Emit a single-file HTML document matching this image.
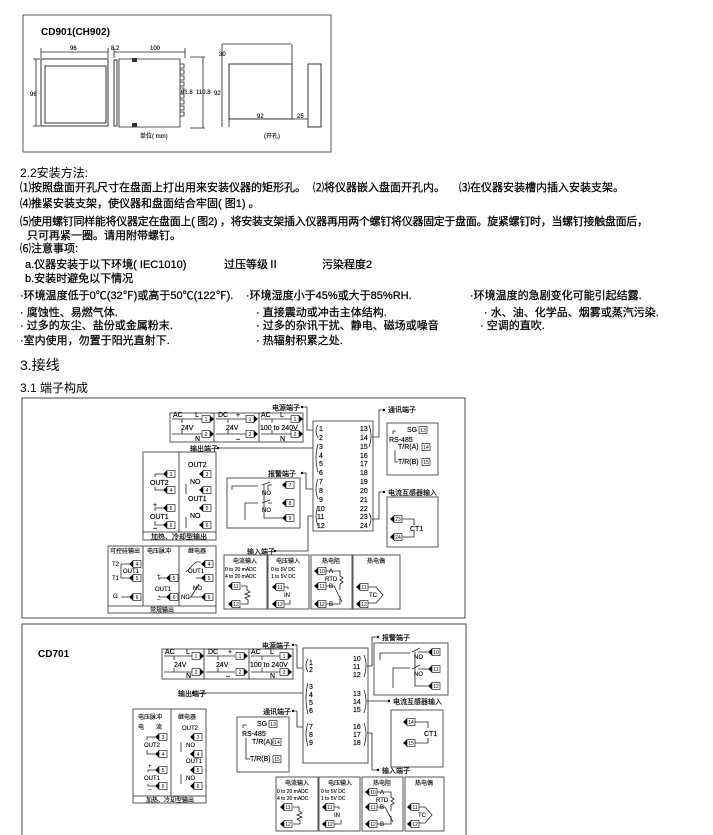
<!DOCTYPE html>
<html><head><meta charset="utf-8"><style>
html,body{margin:0;padding:0;background:#fff;}
svg{display:block}
text{font-family:"Liberation Sans","Noto Sans CJK SC",sans-serif;fill:#000}
.b{font-size:11px;stroke:#000;stroke-width:.25}
.s{font-size:7px;stroke:#000;stroke-width:.15}
.t{font-size:6px;stroke:#000;stroke-width:.12}
.n{font-size:5px;text-anchor:middle}
.c{text-anchor:middle}
.ln{fill:none;stroke:#222;stroke-width:.8}
.bx{fill:#fff;stroke:#555;stroke-width:1}
</style></head><body>
<svg width="713" height="835" viewBox="0 0 713 835" xmlns="http://www.w3.org/2000/svg">
<defs>
<g id="L"><polygon points="0,0 4,-3.5 4,3.5" fill="#000"/><rect x="4" y="-3.5" width="8" height="7" fill="#fff" stroke="#000" stroke-width=".6"/></g>
<g id="R"><rect x="0" y="-3.5" width="8" height="7" fill="#fff" stroke="#000" stroke-width=".6"/><polygon points="8,-3.5 12,0 8,3.5" fill="#000"/></g>
<g id="B"><rect x="0" y="-3.5" width="8" height="7" fill="#fff" stroke="#000" stroke-width=".6"/></g>
</defs>

<!-- top drawing -->
<rect x="23" y="15" width="308" height="137" fill="none" stroke="#555" stroke-width="1"/>
<text x="41" y="35" style="font-size:10px;font-weight:bold">CD901(CH902)</text>
<rect x="41" y="59" width="67" height="67" fill="none" stroke="#333"/>
<rect x="45" y="66" width="61" height="57" fill="none" stroke="#333"/>
<path class="ln" d="M41 52H108M41 48V58M108 48V58M36 59V126M33 59H40M33 126H40"/>
<text x="70" y="50" class="t">96</text><text x="30" y="96" class="t">96</text>
<rect x="114" y="60" width="3" height="66" fill="none" stroke="#333"/>
<path class="ln" d="M119 59H180V127H119ZM114 52H185M114 48V58M185 48V58M190 57H205M190 128H205M203 57V128"/>
<path class="ln" d="M180 64h4v4h-4M180 70h4v4h-4M180 76h4v4h-4M180 82h4v4h-4M180 88h4v4h-4M180 94h4v4h-4M180 100h4v4h-4M180 106h4v4h-4M180 112h4v4h-4"/>
<rect x="132" y="58" width="5" height="4" fill="#333"/><rect x="132" y="123" width="5" height="4" fill="#333"/>
<text x="111" y="50" class="t">8.2</text><text x="150" y="50" class="t">100</text>
<text x="181" y="94" class="t">91.8</text><text x="196" y="94" class="t">110.8</text><text x="214" y="95" class="t">92</text>
<text x="140" y="138" class="t">单位( mm)</text>
<rect x="229" y="64" width="63" height="55" fill="none" stroke="#333"/>
<path class="ln" d="M222 44H291M222 44V127M229 119V127M292 44V64M292 119H308"/>
<rect x="308" y="64" width="13" height="63" fill="none" stroke="#333"/>
<text x="219" y="56" class="t">30</text><text x="257" y="118" class="t">92</text><text x="297" y="118" class="t">25</text>
<text x="264" y="138" class="t">(开孔)</text>

<!-- text -->
<text x="20" y="177" style="font-size:12px">2.2安装方法:</text>
<text x="20" y="191" class="b">⑴按照盘面开孔尺寸在盘面上打出用来安装仪器的矩形孔。</text>
<text x="313" y="191" class="b">⑵将仪器嵌入盘面开孔内。</text>
<text x="459" y="191" class="b">⑶在仪器安装槽内插入安装支架。</text>
<text x="20" y="207" class="b">⑷推紧安装支架，使仪器和盘面结合牢固( 图1) 。</text>
<text x="20" y="225" class="b" textLength="628">⑸使用螺钉同样能将仪器定在盘面上( 图2) ，将安装支架插入仪器再用两个螺钉将仪器固定于盘面。旋紧螺钉时，当螺钉接触盘面后，</text>
<text x="27" y="239" class="b">只可再紧一圈。请用附带螺钉。</text>
<text x="20" y="252" class="b">⑹注意事项:</text>
<text x="25" y="268" class="b">a.仪器安装于以下环境( IEC1010)</text>
<text x="224" y="268" class="b">过压等级Ⅱ</text>
<text x="322" y="268" class="b">污染程度2</text>
<text x="25" y="282" class="b">b.安装时避免以下情况</text>
<text x="20" y="299" class="b">·环境温度低于0℃(32℉)或高于50℃(122℉).</text>
<text x="246" y="299" class="b">·环境湿度小于45%或大于85%RH.</text>
<text x="470" y="299" class="b">·环境温度的急剧变化可能引起结露.</text>
<text x="20" y="316" class="b">· 腐蚀性、易燃气体.</text>
<text x="256" y="316" class="b">· 直接震动或冲击主体结构.</text>
<text x="484" y="316" class="b">· 水、油、化学品、烟雾或蒸汽污染.</text>
<text x="20" y="329" class="b">·  过多的灰尘、盐份或金属粉末.</text>
<text x="256" y="329" class="b">· 过多的杂讯干扰、静电、磁场或噪音</text>
<text x="480" y="329" class="b">· 空调的直吹.</text>
<text x="20" y="344" class="b">·室内使用，勿置于阳光直射下.</text>
<text x="256" y="344" class="b">· 热辐射积累之处.</text>
<text x="20" y="370" style="font-size:14px">3.接线</text>
<text x="20" y="392" style="font-size:12px">3.1 端子构成</text>

<!-- diagram 1 -->
<rect x="22" y="398" width="443" height="220" fill="none" stroke="#666" stroke-width="1.2"/>
<rect x="22" y="624" width="444" height="220" fill="none" stroke="#666" stroke-width="1.2"/>

<rect class="bx" x="170" y="413" width="133" height="29"/>
<path class="ln" d="M214 413V442M259 413V442"/>
<text x="173" y="417" class="s">AC</text><text x="195" y="417" class="s">L</text><text x="181" y="430" class="s">24V</text><text x="195" y="441" class="s">N</text>
<path class="ln" d="M172 419H202M172 434H202M182 419V423M182 430V434"/>
<text x="218" y="417" class="s">DC</text><text x="236" y="417" class="s">+</text><text x="226" y="430" class="s">24V</text><text x="236" y="441" class="s">–</text>
<path class="ln" d="M216 419H246M216 434H246M228 419V423M228 430V434"/>
<text x="261" y="417" class="s">AC</text><text x="280" y="417" class="s">L</text><text x="260" y="430" class="s">100 to 240V</text><text x="280" y="441" class="s">N</text>
<path class="ln" d="M261 419H291M261 434H291M272 419V423M272 430V434"/>
<use href="#R" x="202" y="419"/><use href="#R" x="202" y="434"/><use href="#R" x="246" y="419"/><use href="#R" x="246" y="434"/><use href="#R" x="291" y="419"/><use href="#R" x="291" y="434"/>
<text x="206" y="421" class="n">1</text><text x="206" y="436" class="n">2</text><text x="250" y="421" class="n">1</text><text x="250" y="436" class="n">2</text><text x="295" y="421" class="n">1</text><text x="295" y="436" class="n">2</text>

<text x="272" y="410" class="s">电源端子</text><circle cx="302" cy="407" r="1.2"/>
<path class="ln" d="M302 407H307V430H314"/>
<text x="190" y="451" class="s">输出端子</text><circle cx="218" cy="448" r="1.2"/>
<path class="ln" d="M218 448H314"/>
<text x="268" y="476" class="s">报警端子</text><circle cx="302" cy="473" r="1.2"/>
<path class="ln" d="M302 473H306V489H314"/>
<text x="247" y="554" class="s">输入端子</text><circle cx="275" cy="551" r="1.2"/>
<path class="ln" d="M275 551H308V516H314"/>

<rect class="bx" x="313" y="421" width="60" height="110"/>
<g class="s">
<text x="319" y="431">1</text><text x="319" y="440">2</text><text x="319" y="449">3</text><text x="319" y="458">4</text><text x="319" y="466">5</text><text x="319" y="475">6</text><text x="319" y="484">7</text><text x="319" y="493">8</text><text x="319" y="502">9</text><text x="317" y="511">10</text><text x="317" y="519">11</text><text x="317" y="528">12</text>
<text x="360" y="431">13</text><text x="360" y="440">14</text><text x="360" y="449">15</text><text x="360" y="458">16</text><text x="360" y="466">17</text><text x="360" y="475">18</text><text x="360" y="484">19</text><text x="360" y="493">20</text><text x="360" y="502">21</text><text x="360" y="511">22</text><text x="360" y="519">23</text><text x="360" y="528">24</text>
</g>
<path class="ln" d="M318 425Q314 430 318 438M318 444Q314 458 318 472M318 479Q314 489 318 499M318 506Q314 516 318 526M369 425Q373 436 369 447M369 513Q373 519 369 526"/>
<path class="ln" d="M372 437H379V410H383M372 519H379V492H383"/>
<circle cx="384" cy="410" r="1.2"/><text x="388" y="412" class="s">通讯端子</text>
<circle cx="384" cy="492" r="1.2"/><text x="388" y="495" class="s">电流互感器输入</text>

<rect class="bx" x="387" y="423" width="51" height="52"/>
<text x="407" y="432" class="s">SG</text><text x="389" y="442" class="s">RS-485</text><text x="398" y="449" class="s">T/R(A)</text><text x="398" y="464" class="s">T/R(B)</text>
<path class="ln" d="M393 434V431H396M395 450V462H398"/>
<use href="#B" x="419" y="430"/><use href="#B" x="422" y="447"/><use href="#B" x="422" y="462"/>
<text x="423" y="432" class="n">13</text><text x="426" y="449" class="n">14</text><text x="426" y="464" class="n">15</text>

<rect class="bx" x="387" y="497" width="51" height="50"/>
<use href="#L" x="390" y="519"/><use href="#L" x="390" y="537"/>
<text x="398" y="521" class="n">23</text><text x="398" y="539" class="n">24</text>
<path class="ln" d="M402 519H414V525M402 537H414V531"/><text x="410" y="531" class="s">CT1</text>

<rect class="bx" x="227" y="478" width="73" height="50"/>
<path class="ln" d="M232 490V486H258M245 520V503H258M268 490V485H272M262 485L270 482M268 503H272M262 503L270 500M264 485V518H282M264 503V503"/>
<text x="262" y="495" class="t">NO</text><text x="262" y="512" class="t">NO</text>
<use href="#L" x="282" y="485"/><use href="#L" x="282" y="503"/><use href="#L" x="282" y="518"/>
<text x="290" y="487" class="n">7</text><text x="290" y="505" class="n">8</text><text x="290" y="520" class="n">9</text>

<rect class="bx" x="143" y="452" width="73" height="88"/>
<path class="ln" d="M179 452V532M143 532H216"/>
<g class="s"><text x="150" y="485">OUT2</text><text x="150" y="519">OUT1</text><text x="188" y="467">OUT2</text><text x="188" y="501">OUT1</text><text x="190" y="484">NO</text><text x="190" y="518">NO</text><text x="153" y="507">+</text><text x="153" y="530">–</text></g>
<path class="ln" d="M155 477V474H163M155 487V490H163M155 511V508H163M155 521V525H163M186 484V494M186 517V528"/>
<use href="#L" x="163" y="474"/><use href="#L" x="163" y="490"/><use href="#L" x="163" y="508"/><use href="#L" x="163" y="525"/>
<use href="#L" x="199" y="474"/><use href="#L" x="199" y="490"/><use href="#L" x="199" y="508"/><use href="#L" x="199" y="525"/>
<g class="n"><text x="171" y="476">3</text><text x="171" y="492">4</text><text x="171" y="510">5</text><text x="171" y="527">6</text><text x="207" y="476">3</text><text x="207" y="492">4</text><text x="207" y="510">5</text><text x="207" y="527">6</text></g>
<text x="179" y="539" class="s c">加热、冷却型输出</text>

<rect class="bx" x="108" y="546" width="108" height="67"/>
<path class="ln" d="M143 546V606M179 546V606M108 606H216"/>
<g class="t"><text x="110" y="553">可控硅输出</text><text x="147" y="553">电压脉冲</text><text x="188" y="553">继电器</text>
<text x="112" y="566">T2</text><text x="112" y="580">T1</text><text x="113" y="598">G</text><text x="123" y="573">OUT1</text>
<text x="155" y="591">OUT1</text><text x="157" y="578">+</text><text x="157" y="601">–</text>
<text x="188" y="573">OUT1</text><text x="193" y="590">NO</text><text x="181" y="599">NC</text></g>
<text x="162" y="612" class="t c">常规输出</text>
<path class="ln" d="M121 564H129M121 564V578H129M121 597H129M159 580V578H166M159 595V597H166M186 572L196 562H201M188 597H201M191 597L199 584M196 578H201"/>
<use href="#L" x="129" y="564"/><use href="#L" x="129" y="578"/><use href="#L" x="129" y="597"/>
<use href="#L" x="166" y="578"/><use href="#L" x="166" y="597"/>
<use href="#L" x="201" y="564"/><use href="#L" x="201" y="578"/><use href="#L" x="201" y="597"/>
<g class="n"><text x="137" y="566">4</text><text x="137" y="580">5</text><text x="137" y="599">6</text><text x="174" y="580">5</text><text x="174" y="599">6</text><text x="209" y="566">4</text><text x="209" y="580">5</text><text x="209" y="599">6</text></g>

<!-- input boxes 1 -->
<rect class="bx" x="224" y="555" width="43" height="54"/><rect class="bx" x="268" y="555" width="41" height="54"/><rect class="bx" x="311" y="555" width="41" height="54"/><rect class="bx" x="353" y="555" width="47" height="54"/>
<g class="t"><text x="245" y="563" class="c">电流输入</text><text x="225" y="571" style="font-size:5px">0 to 20 mADC</text><text x="225" y="578" style="font-size:5px">4 to 20 mADC</text>
<text x="288" y="563" class="c">电压输入</text><text x="271" y="571" style="font-size:5px">0 to 5V  DC</text><text x="271" y="578" style="font-size:5px">1 to 5V  DC</text><text x="284" y="597">IN</text>
<text x="331" y="563" class="c">热电阻</text><text x="329" y="573">A</text><text x="329" y="588">B</text><text x="329" y="606">B</text><text x="325" y="581">RTD</text>
<text x="376" y="563" class="c">热电偶</text><text x="369" y="597">TC</text></g>
<path class="ln" d="M241 586H247V590l3 2-5 2 5 2-5 2 3 2V604H241M280 587H288V589M280 604H290V600M326 571H340V576l3 2-3 2 3 2-3 2V590M326 586H334L342 602M326 604H340V596M366 587H376L383 595L376 603H366"/>
<use href="#L" x="228" y="586"/><use href="#L" x="228" y="604"/><use href="#L" x="272" y="587"/><use href="#L" x="272" y="604"/><use href="#L" x="314" y="571"/><use href="#L" x="314" y="586"/><use href="#L" x="314" y="604"/><use href="#L" x="356" y="587"/><use href="#L" x="356" y="604"/>
<g class="n"><text x="236" y="588">11</text><text x="236" y="606">12</text><text x="280" y="589">11</text><text x="280" y="606">12</text><text x="322" y="573">10</text><text x="322" y="588">11</text><text x="322" y="606">12</text><text x="364" y="589">11</text><text x="364" y="606">12</text></g>

<!-- diagram 2 -->
<text x="38" y="657" style="font-size:10px;font-weight:bold">CD701</text>
<rect class="bx" x="162" y="649" width="131" height="30"/>
<path class="ln" d="M204 649V679M249 649V679"/>
<text x="165" y="654" class="s">AC</text><text x="186" y="654" class="s">L</text><text x="174" y="667" class="s">24V</text><text x="186" y="678" class="s">N</text>
<path class="ln" d="M164 656H192M164 672H192M174 656V660M174 668V672"/>
<text x="208" y="654" class="s">DC</text><text x="228" y="654" class="s">+</text><text x="216" y="667" class="s">24V</text><text x="226" y="678" class="s">–</text>
<path class="ln" d="M206 656H235M206 672H235M218 656V660M218 668V672"/>
<text x="251" y="654" class="s">AC</text><text x="270" y="654" class="s">L</text><text x="250" y="667" class="s">100 to 240V</text><text x="270" y="678" class="s">N</text>
<path class="ln" d="M251 656H280M251 672H280M262 656V660M262 668V672"/>
<use href="#R" x="192" y="656"/><use href="#R" x="192" y="672"/><use href="#R" x="236" y="656"/><use href="#R" x="236" y="672"/><use href="#R" x="280" y="656"/><use href="#R" x="280" y="672"/>
<g class="n"><text x="196" y="658">1</text><text x="196" y="674">2</text><text x="240" y="658">1</text><text x="240" y="674">2</text><text x="284" y="658">1</text><text x="284" y="674">2</text></g>

<text x="262" y="648" class="s">电源端子</text><circle cx="293" cy="645" r="1.2"/>
<path class="ln" d="M293 645H297V668H305"/>
<text x="178" y="696" class="s">输出端子</text><circle cx="193" cy="693" r="1.2"/>
<path class="ln" d="M193 693H305"/>
<text x="263" y="714" class="s">通讯端子</text><circle cx="293" cy="711" r="1.2"/>
<path class="ln" d="M293 711H297V727H305"/>

<rect class="bx" x="303" y="648" width="65" height="115"/>
<g class="s"><text x="309" y="665">1</text><text x="309" y="672">2</text><text x="309" y="689">3</text><text x="309" y="697">4</text><text x="309" y="705">5</text><text x="309" y="713">6</text><text x="309" y="729">7</text><text x="309" y="737">8</text><text x="309" y="745">9</text>
<text x="353" y="661">10</text><text x="353" y="669">11</text><text x="353" y="677">12</text><text x="353" y="696">13</text><text x="353" y="704">14</text><text x="353" y="712">15</text><text x="353" y="729">16</text><text x="353" y="737">17</text><text x="353" y="745">18</text></g>
<path class="ln" d="M308 659Q304 665 308 672M308 683Q304 698 308 714M308 723Q304 734 308 746M364 655Q368 665 364 677M364 690Q368 701 364 713M364 723Q368 734 364 746"/>
<path class="ln" d="M367 666H372V637H378M367 701H388M367 733H372V770H378"/>
<circle cx="378" cy="637" r="1.2"/><text x="382" y="640" class="s">报警端子</text>
<circle cx="389" cy="701" r="1.2"/><text x="393" y="704" class="s">电流互感器输入</text>
<circle cx="378" cy="770" r="1.2"/><text x="382" y="773" class="s">输入端子</text>

<rect class="bx" x="374" y="643" width="74" height="52"/>
<path class="ln" d="M380 660V653H410M393 688V668H410M418 652H428M412 652L420 648M418 669H428M412 669L420 665M415 652V686H428"/>
<text x="414" y="659" class="t">NO</text><text x="414" y="676" class="t">NO</text>
<use href="#L" x="428" y="652"/><use href="#L" x="428" y="669"/><use href="#L" x="428" y="686"/>
<g class="n"><text x="436" y="654">10</text><text x="436" y="671">11</text><text x="436" y="688">12</text></g>

<rect class="bx" x="391" y="710" width="52" height="57"/>
<use href="#L" x="403" y="722"/><use href="#L" x="403" y="743"/>
<g class="n"><text x="411" y="724">14</text><text x="411" y="745">15</text></g>
<path class="ln" d="M415 722H428V728M415 743H428V738"/><text x="424" y="736" class="s">CT1</text>

<rect class="bx" x="237" y="717" width="52" height="55"/>
<text x="257" y="726" class="s">SG</text><text x="242" y="736" class="s">RS-485</text><text x="252" y="744" class="s">T/R(A)</text><text x="250" y="761" class="s">T/R(B)</text>
<path class="ln" d="M243 728V725H247M246 738V759H250"/>
<use href="#B" x="269" y="724"/><use href="#B" x="273" y="742"/><use href="#B" x="273" y="759"/>
<g class="n"><text x="273" y="726">13</text><text x="277" y="744">14</text><text x="277" y="761">15</text></g>

<rect class="bx" x="133" y="709" width="73" height="94"/>
<path class="ln" d="M171 709V796M133 796H206"/>
<g class="t"><text x="138" y="719">电压脉冲</text><text x="138" y="729">电　　流</text><text x="178" y="719">继电器</text>
<text x="144" y="747">OUT2</text><text x="144" y="780">OUT1</text><text x="182" y="730">OUT2</text><text x="186" y="763">OUT1</text><text x="186" y="747">NO</text><text x="186" y="780">NO</text><text x="148" y="768">+</text><text x="148" y="791">–</text></g>
<path class="ln" d="M147 740V737H155M147 750V754H155M148 772V770H155M148 784V786H155M181 742V752M181 774V784"/>
<use href="#L" x="155" y="737"/><use href="#L" x="155" y="754"/><use href="#L" x="155" y="770"/><use href="#L" x="155" y="786"/>
<use href="#L" x="190" y="737"/><use href="#L" x="190" y="754"/><use href="#L" x="190" y="770"/><use href="#L" x="190" y="786"/>
<g class="n"><text x="163" y="739">3</text><text x="163" y="756">4</text><text x="163" y="772">5</text><text x="163" y="788">6</text><text x="198" y="739">3</text><text x="198" y="756">4</text><text x="198" y="772">5</text><text x="198" y="788">6</text></g>
<text x="170" y="802" class="t c">加热、冷却型输出</text>

<rect class="bx" x="276" y="777" width="42" height="54"/><rect class="bx" x="319" y="777" width="41" height="54"/><rect class="bx" x="362" y="777" width="41" height="54"/><rect class="bx" x="405" y="777" width="39" height="54"/>
<g class="t"><text x="297" y="785" class="c">电流输入</text><text x="277" y="793" style="font-size:5px">0 to 20 mADC</text><text x="277" y="800" style="font-size:5px">4 to 20 mADC</text>
<text x="340" y="785" class="c">电压输入</text><text x="321" y="793" style="font-size:5px">0 to 5V  DC</text><text x="321" y="800" style="font-size:5px">1 to 5V  DC</text><text x="334" y="817">IN</text>
<text x="382" y="785" class="c">热电阻</text><text x="380" y="794">A</text><text x="380" y="809">B</text><text x="380" y="826">B</text><text x="376" y="802">RTD</text>
<text x="424" y="785" class="c">热电偶</text><text x="418" y="817">TC</text></g>
<path class="ln" d="M293 807H299V811l3 2-5 2 5 2-5 2 3 2V824H293M331 807H339V809M331 824H341V820M377 792H391V797l3 2-3 2 3 2-3 2V811M377 807H385L393 822M377 824H391V816M417 807H425L432 815L425 823H417"/>
<use href="#L" x="280" y="807"/><use href="#L" x="280" y="824"/><use href="#L" x="322" y="807"/><use href="#L" x="322" y="824"/><use href="#L" x="365" y="792"/><use href="#L" x="365" y="807"/><use href="#L" x="365" y="824"/><use href="#L" x="407" y="807"/><use href="#L" x="407" y="824"/>
<g class="n"><text x="288" y="809">11</text><text x="288" y="826">12</text><text x="330" y="809">11</text><text x="330" y="826">12</text><text x="373" y="794">10</text><text x="373" y="809">11</text><text x="373" y="826">12</text><text x="415" y="809">11</text><text x="415" y="826">12</text></g>
</svg>
</body></html>
